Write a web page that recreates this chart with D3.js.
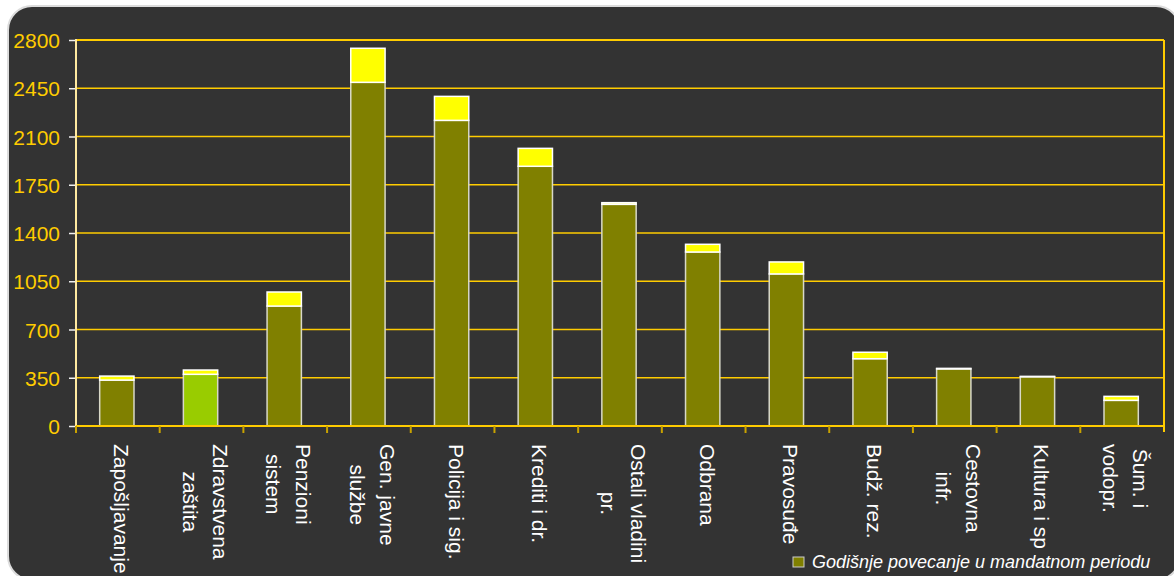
<!DOCTYPE html>
<html>
<head>
<meta charset="utf-8">
<script src="https://cdn.jsdelivr.net/npm/d3@7"></script>
<style>
  html, body { margin: 0; padding: 0; background: #ffffff; }
  svg { display: block; font-family: "Liberation Sans", Arial, sans-serif; }
</style>
</head>
<body>
<svg id="chart" width="1174" height="576"></svg>
<script>
// ---- data ----
const categories = ["Zapošljavanje", "Zdravstvena zaštita", "Penzioni sistem", "Gen. javne službe",
  "Policija i sig.", "Krediti i dr.", "Ostali vladini pr.", "Odbrana", "Pravosuđe",
  "Budž. rez.", "Cestovna infr.", "Kultura i sport", "Šum. i vodopr."];
const labelLines = [["Zapošljavanje"], ["Zdravstvena", "zaštita"], ["Penzioni", "sistem"], ["Gen. javne", "službe"],
  ["Policija i sig."], ["Krediti i dr."], ["Ostali vladini", "pr."], ["Odbrana"], ["Pravosuđe"],
  ["Budž. rez."], ["Cestovna", "infr."], ["Kultura i sport"], ["Šum. i", "vodopr."]];
const baseValues = [333, 375, 870, 2493, 2217, 1884, 1608, 1262, 1103, 488, 414, 357, 186];
const increaseValues = [29, 31, 102, 247, 174, 130, 12, 56, 87, 47, 4, 3, 29];
const highlightCategory = "Zdravstvena zaštita";
const yTicks = [0, 350, 700, 1050, 1400, 1750, 2100, 2450, 2800];
const legendLabel = "Godišnje povecanje u mandatnom periodu";

// ---- layout ----
const plot = { left: 76, right: 1164, top: 40, bottom: 426 };
const svg = d3.select("#chart");

// panel
svg.append("rect").attr("x", 8).attr("y", 6).attr("width", 1172).attr("height", 574)
  .attr("rx", 24).attr("ry", 24)
  .attr("fill", "#333333").attr("stroke", "#dcdcdc").attr("stroke-width", 2);

const x = d3.scaleBand().domain(categories).range([plot.left, plot.right]).padding(0);
const y = d3.scaleLinear().domain([0, 2800]).range([plot.bottom, plot.top]);

// gridlines
svg.append("g").selectAll("line").data(yTicks.filter(d => d > 0)).join("line")
  .attr("x1", plot.left).attr("x2", plot.right)
  .attr("y1", d => y(d)).attr("y2", d => y(d))
  .attr("stroke", "#ffcc00").attr("stroke-width", d => d === 2800 ? 2 : 1.3);

// right border
svg.append("line").attr("x1", plot.right).attr("x2", plot.right)
  .attr("y1", plot.top).attr("y2", plot.bottom + 6)
  .attr("stroke", "#ffcc00").attr("stroke-width", 2);

// y axis
const yAxis = d3.axisLeft(y).tickValues(yTicks).tickFormat(d3.format("d")).tickSize(6).tickPadding(10);
const gy = svg.append("g").attr("transform", `translate(${plot.left - 1},0)`).call(yAxis);
gy.select(".domain").remove();
gy.selectAll(".tick line").attr("stroke", "#f0f0f0").attr("stroke-width", 1.5);
gy.selectAll(".tick text").attr("fill", "#ffcc00").attr("font-size", 21)
  .attr("font-family", "Liberation Sans, Arial, sans-serif").attr("x", -15).attr("dy", "0.36em");
svg.append("line").attr("x1", plot.left).attr("x2", plot.left)
  .attr("y1", plot.top - 1).attr("y2", plot.bottom + 6)
  .attr("stroke", "#ffe9a0").attr("stroke-width", 2);

// bars
const barW = x.bandwidth() * 0.41;
const gBars = svg.append("g");
categories.forEach((c, i) => {
  const cx = x(c) + x.bandwidth() / 2 - 1;
  const base = baseValues[i], inc = increaseValues[i];
  gBars.append("rect")
    .attr("x", cx - barW / 2).attr("width", barW)
    .attr("y", y(base)).attr("height", y(0) - y(base))
    .attr("fill", c === highlightCategory ? "#99cc00" : "#808000")
    .attr("stroke", "#d8d8c8").attr("stroke-width", 1.5);
  gBars.append("rect")
    .attr("x", cx - barW / 2).attr("width", barW)
    .attr("y", y(base + inc)).attr("height", y(base) - y(base + inc))
    .attr("fill", "#ffff00")
    .attr("stroke", "#ffffff").attr("stroke-width", 1.5);
});

// x axis
svg.append("line").attr("x1", plot.left).attr("x2", plot.right)
  .attr("y1", plot.bottom).attr("y2", plot.bottom)
  .attr("stroke", "#ffcc00").attr("stroke-width", 2);
svg.append("g").selectAll("line").data(categories).join("line")
  .attr("x1", d => x(d)).attr("x2", d => x(d))
  .attr("y1", plot.bottom).attr("y2", plot.bottom + 7)
  .attr("stroke", "#c8a200").attr("stroke-width", 2);

// x labels (rotated 90deg, multi-line, centered lines)
const lineGap = 30, labelTop = 444, fs = 21;
const gLab = svg.append("g");
categories.forEach((c, i) => {
  const lines = labelLines[i];
  const n = lines.length;
  const center = x(c) + x.bandwidth() / 2;
  const texts = lines.map((ln, j) => {
    const bx = center + ((n - 1) / 2 - j) * lineGap - 4;
    return gLab.append("text")
      .attr("transform", `translate(${bx},${labelTop}) rotate(90)`)
      .attr("fill", "#ffffff").attr("font-size", fs)
      .text(ln);
  });
  const maxW = d3.max(texts, t => t.node().getComputedTextLength());
  texts.forEach(t => {
    t.attr("x", maxW / 2).attr("text-anchor", "middle");
  });
});

// legend (its box covers the overflow of the labels below, as in the original)
const lg = svg.append("g");
lg.append("rect").attr("x", 786).attr("y", 550).attr("width", 376).attr("height", 30).attr("fill", "#333333");
lg.append("rect").attr("x", 793).attr("y", 557).attr("width", 11).attr("height", 10)
  .attr("fill", "#808000").attr("stroke", "#cccccc").attr("stroke-width", 1);
lg.append("text").attr("x", 812).attr("y", 568).attr("fill", "#ffffff")
  .attr("font-size", 18).attr("font-style", "italic").text(legendLabel);
</script>
</body>
</html>
